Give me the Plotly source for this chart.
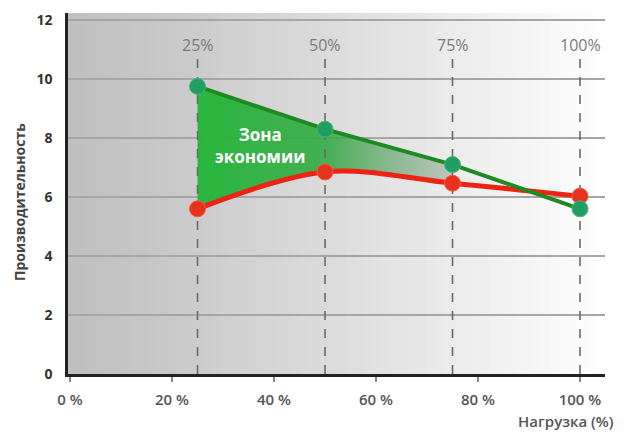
import plotly.graph_objects as go

# Data
load = [25, 50, 75, 100]
load_labels = ['25%', '50%', '75%', '100%']
green_vals = [9.75, 8.3, 7.1, 5.6]
red_vals = [5.6, 6.85, 6.47, 6.03]

x_ticks = [0, 20, 40, 60, 80, 100]
x_ticktext = ['0 %', '20 %', '40 %', '60 %', '80 %', '100 %']
y_ticks = [0, 2, 4, 6, 8, 10, 12]

# Layout geometry (pixels); the page body adds an 8px offset
OFF = 8
W, H = 632 - OFF, 432 - OFF
L, T = 68 - OFF, 13 - OFF
R = W - (605 - OFF)
B = H - (374 - OFF)
pw, ph = W - L - R, H - T - B

def px(x):
    return (x - OFF - L) / pw

def py(y):
    return (H - B - (y - OFF)) / ph

fig = go.Figure()

# Fill between the curves ("zone of savings")
fig.add_trace(go.Scatter(x=load[:3], y=red_vals[:3], mode='lines',
                         line=dict(width=0, shape='spline'), hoverinfo='skip', showlegend=False))
fig.add_trace(go.Scatter(x=load[:3], y=green_vals[:3], mode='lines', fill='tonexty',
                         line=dict(width=0), hoverinfo='skip', showlegend=False,
                         fillgradient=dict(type='horizontal',
                                           colorscale=[[0, 'rgba(38,182,58,0.98)'],
                                                       [0.5, 'rgba(55,172,72,0.92)'],
                                                       [1, 'rgba(150,165,150,0.55)']])))

# Dashed vertical guides at the load levels
dash_x, dash_y = [], []
for v in load:
    dash_x += [v, v, None]
    dash_y += [0, 10.7, None]
fig.add_trace(go.Scatter(x=dash_x, y=dash_y, mode='lines',
                         line=dict(color='#6a6a6a', width=1.6, dash='dash'),
                         hoverinfo='skip', showlegend=False))

# Red curve
fig.add_trace(go.Scatter(x=load, y=red_vals, mode='lines+markers',
                         line=dict(color='#ec2416', width=5, shape='spline'),
                         marker=dict(size=16, color='#e8321e', line=dict(color='#f05a40', width=1)),
                         showlegend=False))
# Green curve
fig.add_trace(go.Scatter(x=load, y=green_vals, mode='lines+markers',
                         line=dict(color='#1f8a22', width=4),
                         marker=dict(size=16, color='#1fa062', line=dict(color='#45b57a', width=1)),
                         showlegend=False))

# Grey gradient background of the plot area
shapes = []
n = 60
c0, c1 = 192, 255
for i in range(n):
    t = i / (n - 1)
    c = int(c0 + (c1 - c0) * t ** 1.1)
    shapes.append(dict(type='rect', xref='paper', yref='paper', x0=i / n, x1=(i + 1) / n + 0.002,
                       y0=0, y1=1, fillcolor=f'rgb({c},{c},{c})', line=dict(width=0), layer='below'))

annotations = []
for v, lab in zip(load, load_labels):
    annotations.append(dict(x=v, y=11.15, xref='x', yref='y', text=lab, showarrow=False,
                            font=dict(family='Open Sans', size=16, color='#7a7a7a')))
annotations.append(dict(x=37.3, y=7.75, xref='x', yref='y', text='<b>Зона<br>экономии</b>',
                        showarrow=False, font=dict(family='Open Sans', size=17, color='white')))
annotations.append(dict(x=px(566), y=py(421), xref='paper', yref='paper', text='Нагрузка (%)',
                        xanchor='center', yanchor='middle',
                        showarrow=False, font=dict(family='Open Sans', size=15, color='#555555', weight=600)))
annotations.append(dict(x=px(19), y=py(202), xref='paper', yref='paper', text='<b>Производительность</b>',
                        xanchor='center', yanchor='middle',
                        textangle=-90, showarrow=False, font=dict(family='Open Sans', size=14, color='#444444')))

fig.update_layout(
    width=W,
    height=H,
    margin=dict(l=L, r=R, t=T, b=B, autoexpand=False),
    paper_bgcolor='white',
    plot_bgcolor='white',
    showlegend=False,
    shapes=shapes,
    annotations=annotations,
    xaxis=dict(range=[-0.4, 104.9], tickvals=x_ticks, ticktext=x_ticktext, showgrid=False,
               zeroline=False, showline=True, linecolor='#222222', linewidth=2.5, automargin=False,
               ticks='outside', ticklen=5, tickcolor='#888888', tickwidth=1.5,
               ticklabelstandoff=5, tickfont=dict(family='Open Sans', size=15, color='#555555', weight=600)),
    yaxis=dict(range=[0, 12.24], tickvals=y_ticks, showgrid=True, gridcolor='#a6a6a6', gridwidth=1.5,
               zeroline=False, showline=True, linecolor='#222222', linewidth=2.5, ticks='', automargin=False,
               ticklabelstandoff=10, tickfont=dict(family='Open Sans', size=14, color='#333333', weight='bold')),
)

fig.write_html("out.html")
